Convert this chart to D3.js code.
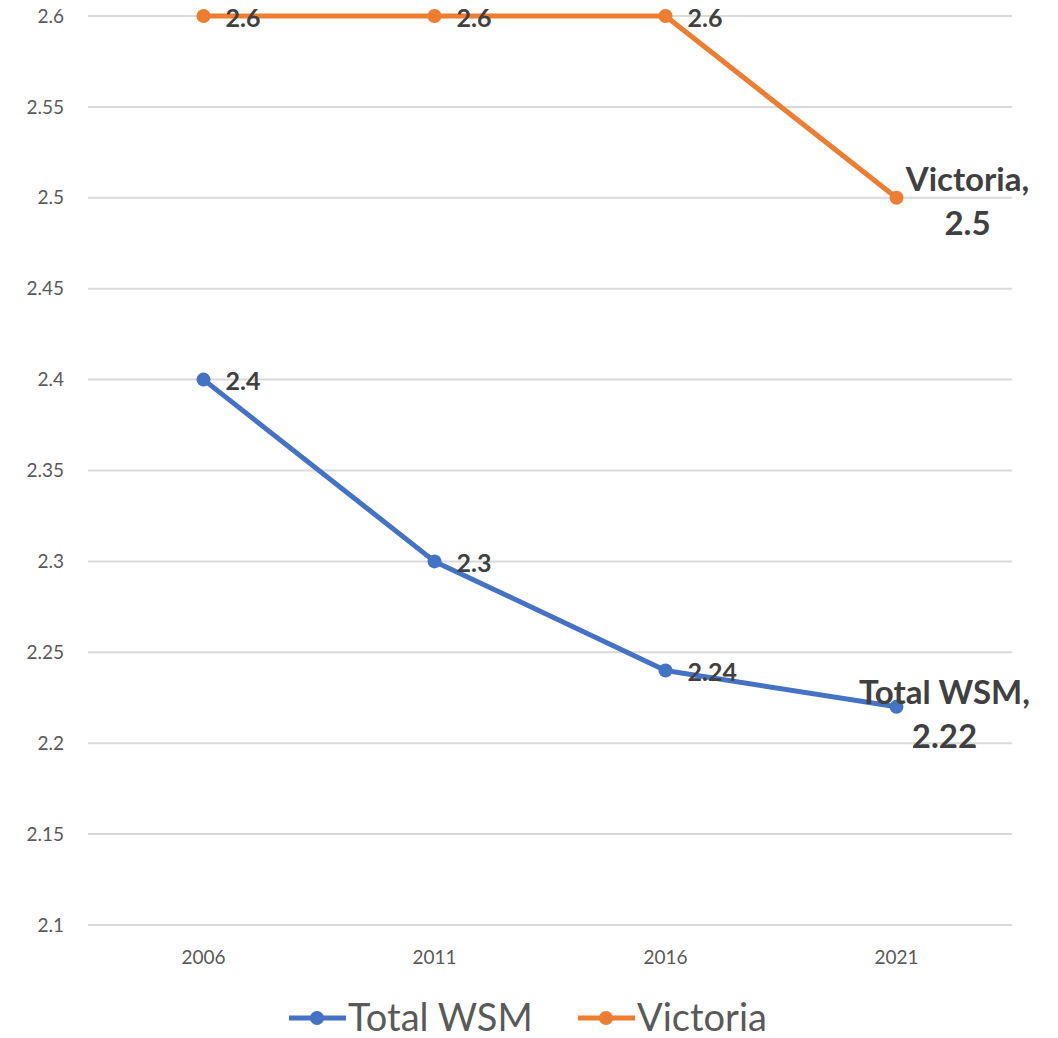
<!DOCTYPE html>
<meta charset="utf-8">
<style>
    body { margin: 0; background: #fff; }
    .chart text { font-family: Lato, "Noto Sans", sans-serif; }
    .grid line { stroke: #d9d9d9; stroke-width: 2; }
    .tick-label { fill: #595959; font-size: 19px; }
    .data-label { fill: #404040; font-weight: bold; font-size: 25px; }
    .end-label { fill: #404040; font-weight: bold; font-size: 33px; }
    .legend text { fill: #595959; font-size: 38px; }
</style>
<svg class="chart"></svg>
<script src="https://cdnjs.cloudflare.com/ajax/libs/d3/7.8.5/d3.min.js"></script>
<script>
    var years = ["2006", "2011", "2016", "2021"];
    var totalWSM = [2.4, 2.3, 2.24, 2.22];
    var victoria = [2.6, 2.6, 2.6, 2.5];
    var yTicks = [2.1, 2.15, 2.2, 2.25, 2.3, 2.35, 2.4, 2.45, 2.5, 2.55, 2.6];
    var seriesNames = ["Total WSM", "Victoria"];
    var colors = ["#4472c4", "#ed7d31"];

    function drawChart() {
        var width = 1058,
            height = 1038,
            left = 88,
            right = 1012,
            top = 16,
            bottom = 925;

        var svg = d3.select(".chart")
            .attr("width", width)
            .attr("height", height);

        var x = d3.scalePoint()
            .domain(years)
            .range([left, right])
            .padding(0.5);

        var y = d3.scaleLinear()
            .domain([2.1, 2.6])
            .range([bottom, top]);

        // gridlines
        svg.append("g").attr("class", "grid")
            .selectAll("line")
            .data(yTicks)
            .enter().append("line")
            .attr("x1", left)
            .attr("x2", right)
            .attr("y1", function (d) { return y(d); })
            .attr("y2", function (d) { return y(d); });

        // y axis labels
        svg.append("g")
            .selectAll("text")
            .data(yTicks)
            .enter().append("text")
            .attr("class", "tick-label")
            .attr("x", 64)
            .attr("y", function (d) { return y(d); })
            .attr("dy", ".35em")
            .attr("text-anchor", "end")
            .text(function (d) { return d3.format("")(+d.toFixed(2)); });

        // x axis labels
        svg.append("g")
            .selectAll("text")
            .data(years)
            .enter().append("text")
            .attr("class", "tick-label")
            .attr("x", function (d) { return x(d); })
            .attr("y", 957)
            .attr("dy", ".35em")
            .attr("text-anchor", "middle")
            .text(function (d) { return d; });

        var series = [
            { name: seriesNames[0], values: totalWSM, color: colors[0] },
            { name: seriesNames[1], values: victoria, color: colors[1] }
        ];

        var line = d3.line()
            .x(function (d, i) { return x(years[i]); })
            .y(function (d) { return y(d); });

        var s = svg.selectAll(".series")
            .data(series)
            .enter().append("g")
            .attr("class", "series");

        s.append("path")
            .attr("d", function (d) { return line(d.values); })
            .attr("fill", "none")
            .attr("stroke", function (d) { return d.color; })
            .attr("stroke-width", 5)
            .attr("stroke-linejoin", "round");

        s.selectAll("circle")
            .data(function (d) { return d.values.map(function (v) { return { v: v, color: d.color }; }); })
            .enter().append("circle")
            .attr("cx", function (d, i) { return x(years[i]); })
            .attr("cy", function (d) { return y(d.v); })
            .attr("r", 7)
            .attr("fill", function (d) { return d.color; });

        // data labels (all but last point)
        s.selectAll(".data-label")
            .data(function (d) { return d.values.slice(0, -1); })
            .enter().append("text")
            .attr("class", "data-label")
            .attr("x", function (d, i) { return x(years[i]) + 22; })
            .attr("y", function (d) { return y(d) + 2; })
            .attr("dy", ".35em")
            .text(function (d) { return d; });

        // end labels with series name
        var endOffsets = [{ dx: 48, dy: -14 }, { dx: 71, dy: -18 }];
        s.append("text")
            .attr("class", "end-label")
            .attr("text-anchor", "middle")
            .attr("x", function (d, i) { return x(years[3]) + endOffsets[i].dx; })
            .attr("y", function (d, i) { return y(d.values[3]) + endOffsets[i].dy; })
            .selectAll("tspan")
            .data(function (d) { return [d.name + ",", d.values[3]]; })
            .enter().append("tspan")
            .attr("x", function () { return this.parentNode.getAttribute("x"); })
            .attr("dy", function (d, i) { return i ? "1.33em" : ".35em"; })
            .text(function (d) { return d; });

        // legend
        var legendX = [289, 578];
        var lg = svg.append("g").attr("class", "legend")
            .selectAll("g")
            .data(series)
            .enter().append("g")
            .attr("transform", function (d, i) { return "translate(" + legendX[i] + ",1018)"; });

        lg.append("line")
            .attr("x1", 0).attr("x2", 57)
            .attr("stroke", function (d) { return d.color; })
            .attr("stroke-width", 5);
        lg.append("circle")
            .attr("cx", 28).attr("r", 7)
            .attr("fill", function (d) { return d.color; });
        lg.append("text")
            .attr("x", 59)
            .attr("dy", ".35em")
            .text(function (d) { return d.name; });
    }

    drawChart();
</script>
